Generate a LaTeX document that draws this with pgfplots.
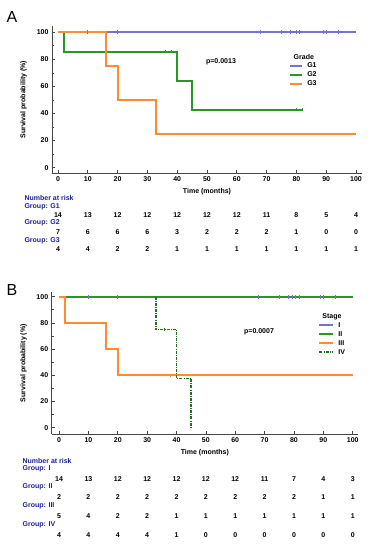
\documentclass[border=0pt]{standalone}
\usepackage{fontspec}
\setmainfont{Liberation Sans}
\usepackage{pgfplots}
\pgfplotsset{compat=1.18}
\definecolor{cG1}{RGB}{115,115,210}
\definecolor{cG2}{RGB}{40,150,40}
\definecolor{cG3}{RGB}{255,140,50}
\definecolor{cIV}{RGB}{30,115,30}
\definecolor{navy}{RGB}{30,30,160}
\definecolor{axgray}{RGB}{70,70,70}
\pgfplotsset{
  kmaxis/.style={
    scale only axis, clip=false,
    axis x line*=bottom, axis y line*=left,
    axis line style={draw=axgray, line width=0.9pt, -},
    tick style={draw=axgray, line width=0.7pt},
    tick align=inside, major tick length=3pt, minor tick length=2pt,
    xtick={0,10,...,100}, ytick={0,20,...,100}, minor ytick={10,30,50,70,90},
    ticklabel style={font=\fontsize{7}{8}\selectfont\bfseries},
    /pgf/number format/assume math mode=true,
    label style={font=\fontsize{7}{8}\selectfont\bfseries},
    xlabel={Time (months)}, ylabel={Survival probability (\%)},
    ylabel style={at={(axis description cs:-0.092,0.5)}, anchor=center},
    legend cell align=left,
    legend style={draw=none, fill=none, inner sep=0pt, column sep=3pt,
      font=\fontsize{7}{8}\selectfont\bfseries,
      nodes={inner sep=1pt, text height=5pt, text depth=1pt}},
  },
  risk/.style={draw=none, mark=none, forget plot, nodes near coords,
    point meta=explicit symbolic,
    nodes near coords style={anchor=center, font=\fontsize{7}{8}\selectfont\bfseries, text=black}},
  cens/.style={only marks, mark=|, mark size=1.8pt, mark options={line width=0.7pt}, forget plot},
}
\newcommand{\rl}[1]{\fontsize{7}{8}\selectfont\bfseries\color{navy}#1}
\begin{document}
\begin{tikzpicture}[x=1pt,y=1pt]
\useasboundingbox (0,0) rectangle (376,550);
\node[font=\fontsize{16}{18}\selectfont] at (12,533) {A};
\node[font=\fontsize{16}{18}\selectfont] at (12,260) {B};
% ---------------- Panel A ----------------
\begin{axis}[kmaxis, at={(52pt,376.5pt)}, anchor=south west,
  width=310pt, height=147.5pt, xmin=-2, xmax=102, ymin=-4.3, ymax=104.6,
  xlabel style={at={(axis description cs:0.5,-0.125)}, anchor=center},
  legend style={at={(axis cs:77.5,78.3)}, anchor=north west, row sep=1pt},
  legend image code/.code={\draw[#1, line width=2.1pt] (0pt,0pt) -- (12pt,0pt);}]
\addplot[cG1, const plot, line width=1.9pt] coordinates {(0,100) (100,100)};
\addlegendentry{G1}
\addplot[cG2, const plot, line width=1.9pt] coordinates {(0,100) (2,85.7) (40,64.3) (45,42.9) (82,42.9)};
\addlegendentry{G2}
\addplot[cG3, const plot, line width=2pt] coordinates {(0,100) (16,75) (20,50) (33,25) (100,25)};
\addlegendentry{G3}
\addplot[cG1, cens] coordinates {(10,100) (20,100) (68,100) (75,100) (78,100) (80,100) (81,100) (89,100) (90,100) (94,100)};
\addplot[cG2, cens] coordinates {(36,85.7) (38,85.7) (80,42.9) (82,42.9)};
\node[anchor=west, font=\fontsize{7}{8}\selectfont\bfseries] at (axis cs:77.9,82.0) {Grade};
\node[font=\fontsize{7}{8}\selectfont\bfseries] at (axis cs:54.7,78.1) {p=0.0013};
\node[anchor=west] at (axis cs:-12.4,-22.4) {\rl{Number at risk}};
\node[anchor=west] at (axis cs:-12.4,-29.0) {\rl{Group: G1}};
\node[anchor=west] at (axis cs:-12.4,-40.8) {\rl{Group: G2}};
\node[anchor=west] at (axis cs:-12.4,-54.1) {\rl{Group: G3}};
\addplot[risk] coordinates {(0,-34.9)[14] (10,-34.9)[13] (20,-34.9)[12] (30,-34.9)[12] (40,-34.9)[12] (50,-34.9)[12] (60,-34.9)[12] (70,-34.9)[11] (80,-34.9)[8] (90,-34.9)[5] (100,-34.9)[4]};
\addplot[risk] coordinates {(0,-47.5)[7] (10,-47.5)[6] (20,-47.5)[6] (30,-47.5)[6] (40,-47.5)[3] (50,-47.5)[2] (60,-47.5)[2] (70,-47.5)[2] (80,-47.5)[1] (90,-47.5)[0] (100,-47.5)[0]};
\addplot[risk] coordinates {(0,-60.0)[4] (10,-60.0)[4] (20,-60.0)[2] (30,-60.0)[2] (40,-60.0)[1] (50,-60.0)[1] (60,-60.0)[1] (70,-60.0)[1] (80,-60.0)[1] (90,-60.0)[1] (100,-60.0)[1]};
\end{axis}
% ---------------- Panel B ----------------
\begin{axis}[kmaxis, at={(51.7pt,115.7pt)}, anchor=south west,
  width=306.3pt, height=142.3pt, xmin=-2.5, xmax=101.8, ymin=-5, ymax=103.6,
  xlabel style={at={(axis description cs:0.5,-0.131)}, anchor=center},
  legend style={at={(axis cs:88.2,81.5)}, anchor=north west, row sep=1pt},
  legend image code/.code={\draw[#1, line width=2.1pt] (0pt,0pt) -- (14pt,0pt);}]
\addplot[cG1, const plot, line width=1.9pt] coordinates {(0,100) (100,100)};
\addlegendentry{I}
\addplot[cG2, const plot, line width=1.9pt] coordinates {(0,100) (100,100)};
\addlegendentry{II}
\addplot[cG3, const plot, line width=1.9pt] coordinates {(0,100) (2,80) (16,60) (20,40) (100,40)};
\addlegendentry{III}
\addplot[cIV, const plot, line width=1.6pt, dash pattern=on 3pt off 1.2pt on 0.8pt off 1.2pt] coordinates {(33,100) (33,75) (40,37.5) (45,0) (45,0)};
\addlegendentry{IV}
\addplot[cG1, cens] coordinates {(10,100) (20,100) (68,100) (75,100) (78,100) (79.5,100) (80.6,100) (81.7,100) (89,100) (90,100) (94,100)};
\addplot[cG3, cens] coordinates {(38,40)};
\addplot[cIV, cens] coordinates {(36,75)};
\node[anchor=west, font=\fontsize{7}{8}\selectfont\bfseries] at (axis cs:88.5,84.7) {Stage};
\node[font=\fontsize{7}{8}\selectfont\bfseries] at (axis cs:68.1,73.1) {p=0.0007};
\node[anchor=west] at (axis cs:-13.6,-25.4) {\rl{Number at risk}};
\node[anchor=west] at (axis cs:-13.6,-31.5) {\rl{Group: I}};
\node[anchor=west] at (axis cs:-13.6,-45.3) {\rl{Group: II}};
\node[anchor=west] at (axis cs:-13.6,-59.8) {\rl{Group: III}};
\node[anchor=west] at (axis cs:-13.6,-74.3) {\rl{Group: IV}};
\addplot[risk] coordinates {(0,-39.2)[14] (10,-39.2)[13] (20,-39.2)[12] (30,-39.2)[12] (40,-39.2)[12] (50,-39.2)[12] (60,-39.2)[12] (70,-39.2)[11] (80,-39.2)[7] (90,-39.2)[4] (100,-39.2)[3]};
\addplot[risk] coordinates {(0,-52.9)[2] (10,-52.9)[2] (20,-52.9)[2] (30,-52.9)[2] (40,-52.9)[2] (50,-52.9)[2] (60,-52.9)[2] (70,-52.9)[2] (80,-52.9)[2] (90,-52.9)[1] (100,-52.9)[1]};
\addplot[risk] coordinates {(0,-67.4)[5] (10,-67.4)[4] (20,-67.4)[2] (30,-67.4)[2] (40,-67.4)[1] (50,-67.4)[1] (60,-67.4)[1] (70,-67.4)[1] (80,-67.4)[1] (90,-67.4)[1] (100,-67.4)[1]};
\addplot[risk] coordinates {(0,-81.9)[4] (10,-81.9)[4] (20,-81.9)[4] (30,-81.9)[4] (40,-81.9)[1] (50,-81.9)[0] (60,-81.9)[0] (70,-81.9)[0] (80,-81.9)[0] (90,-81.9)[0] (100,-81.9)[0]};
\end{axis}
\end{tikzpicture}
\end{document}
